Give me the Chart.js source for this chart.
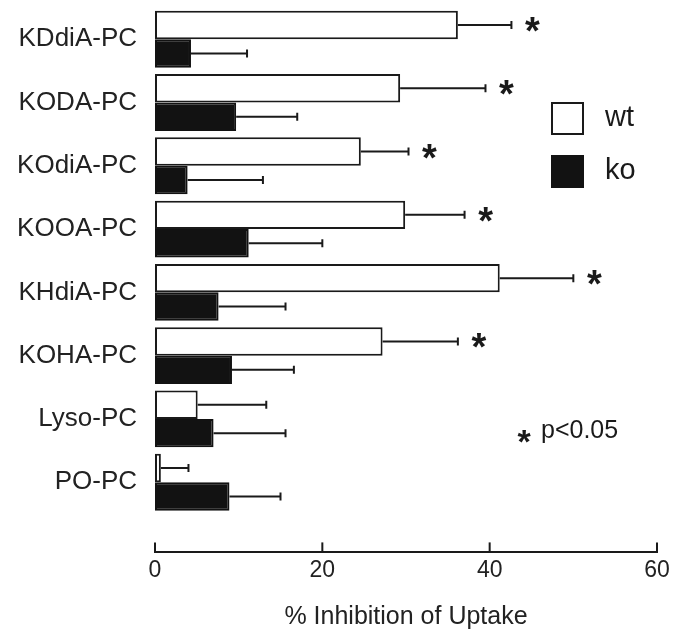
<!DOCTYPE html>
<html>
<head>
<meta charset="utf-8">
<script src="https://cdn.jsdelivr.net/npm/chart.js@4.4.1/dist/chart.umd.min.js"></script>
<style>
  body { margin: 0; background: #fff; }
  #wrap { width: 675px; height: 643px; }
</style>
</head>
<body>
<div id="wrap"><canvas id="uptakeGraph"></canvas></div>
<script>
// values (% inhibition, mean and one-sided error)
var categories = ['KDdiA-PC', 'KODA-PC', 'KOdiA-PC', 'KOOA-PC', 'KHdiA-PC', 'KOHA-PC', 'Lyso-PC', 'PO-PC'];
var wtMean = [36.2, 29.3, 24.6, 29.9, 41.2, 27.2, 5.1, 0.7];
var wtErr  = [6.4, 10.2, 5.7, 7.1, 8.8, 9.0, 8.2, 3.3];
var koMean = [4.3, 9.7, 3.9, 11.2, 7.6, 9.2, 7.0, 8.9];
var koErr  = [6.7, 7.3, 9.0, 8.8, 8.0, 7.4, 8.6, 6.1];
var significant = [true, true, true, true, true, true, false, false];
var xTicks = [0, 20, 40, 60];

var ink = '#1a1a1a';
var fontName = '"Liberation Sans", Arial, sans-serif';

function rows(vals) {
  return vals.map(function (v, i) { return { x: v, y: i }; });
}

function star(ctx, x, y, size) {
  ctx.font = 'bold ' + size + 'px ' + fontName;
  ctx.textAlign = 'center';
  ctx.textBaseline = 'alphabetic';
  ctx.fillText('*', x, y + size * 0.5);
}

var errorBars = {
  id: 'errorBars',
  afterDatasetsDraw: function (chart) {
    var ctx = chart.ctx, xs = chart.scales.x;
    var errs = [wtErr, koErr];
    ctx.save();
    ctx.strokeStyle = ink;
    ctx.fillStyle = ink;
    ctx.lineWidth = 2;
    chart.data.datasets.forEach(function (ds, d) {
      var meta = chart.getDatasetMeta(d);
      meta.data.forEach(function (bar, i) {
        var x0 = xs.getPixelForValue(ds.data[i].x);
        var x1 = xs.getPixelForValue(ds.data[i].x + errs[d][i]);
        ctx.beginPath();
        ctx.moveTo(x0, bar.y); ctx.lineTo(x1, bar.y);
        ctx.moveTo(x1, bar.y - 4); ctx.lineTo(x1, bar.y + 4);
        ctx.stroke();
        if (d == 0 && significant[i]) {
          star(ctx, x1 + 21, bar.y, 38);
        }
      });
    });
    ctx.restore();
  },
  afterDraw: function (chart) {
    var ctx = chart.ctx, xs = chart.scales.x;
    ctx.save();
    ctx.strokeStyle = ink;
    ctx.fillStyle = ink;
    ctx.lineWidth = 2;
    // tick marks point up into the plot
    xs.ticks.forEach(function (t) {
      var px = xs.getPixelForValue(t.value);
      ctx.beginPath();
      ctx.moveTo(px, xs.top); ctx.lineTo(px, xs.top - 10);
      ctx.stroke();
    });
    // legend
    var ds = chart.data.datasets;
    var boxY = [103, 156];
    ds.forEach(function (s, d) {
      ctx.fillStyle = s.backgroundColor;
      ctx.fillRect(552, boxY[d], 31, 31);
      ctx.strokeStyle = s.borderColor;
      ctx.strokeRect(552, boxY[d], 31, 31);
      ctx.fillStyle = ink;
      ctx.font = '29px ' + fontName;
      ctx.textAlign = 'left';
      ctx.textBaseline = 'middle';
      ctx.fillText(s.label, 605, boxY[d] + 15);
    });
    // significance note
    star(ctx, 524, 436, 34);
    ctx.font = '25px ' + fontName;
    ctx.textAlign = 'left';
    ctx.textBaseline = 'middle';
    ctx.fillText('p<0.05', 541, 431);
    ctx.restore();
  }
};

var uptakeData = {
  datasets: [
    {
      label: 'wt',
      data: rows(wtMean),
      backgroundColor: '#ffffff',
      borderColor: ink,
      borderWidth: 2,
      borderSkipped: false,
      clip: false
    },
    {
      label: 'ko',
      data: rows(koMean),
      backgroundColor: '#121212',
      borderColor: '#121212',
      borderWidth: 2,
      borderSkipped: false,
      clip: false
    }
  ]
};

var ctx = document.getElementById('uptakeGraph').getContext('2d');
var uptakeChart = new Chart(ctx, {
  type: 'bar',
  data: uptakeData,
  plugins: [errorBars],
  options: {
    indexAxis: 'y',
    responsive: true,
    maintainAspectRatio: false,
    animation: false,
    categoryPercentage: 0.9,
    barPercentage: 1.0,
    layout: { padding: { top: 3, right: 18, bottom: 0, left: 0 } },
    plugins: {
      legend: { display: false },
      tooltip: { enabled: false }
    },
    scales: {
      x: {
        type: 'linear',
        min: 0,
        max: 60,
        afterBuildTicks: function (s) {
          s.ticks = xTicks.map(function (v) { return { value: v }; });
        },
        grid: { display: false, drawTicks: false },
        border: { display: true, color: ink, width: 2 },
        ticks: {
          padding: 4,
          color: '#222',
          font: { family: fontName, size: 23 }
        },
        title: {
          display: true,
          text: '% Inhibition of Uptake',
          color: '#222',
          font: { family: fontName, size: 25 },
          padding: { top: 14, bottom: 11 }
        }
      },
      y: {
        type: 'linear',
        reverse: true,
        offset: false,
        min: -0.09,
        max: 8.11,
        afterBuildTicks: function (s) {
          s.ticks = categories.map(function (c, i) { return { value: i }; });
        },
        afterFit: function (s) { s.width = 155; },
        grid: { display: false, drawTicks: false, offset: false },
        border: { display: false },
        ticks: {
          padding: 18,
          color: '#222',
          font: { family: fontName, size: 26 },
          callback: function (v) { return categories[v]; }
        }
      }
    }
  }
});
</script>
</body>
</html>
